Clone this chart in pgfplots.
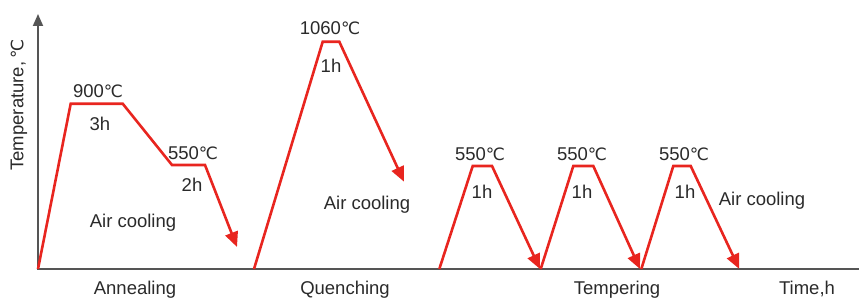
\documentclass[border=0pt]{standalone}
\usepackage{pgfplots}
\pgfplotsset{compat=1.18}
\usepackage{fontspec}
\setmainfont{Liberation Sans}
\newfontfamily\symfont{DejaVu Sans}
\usetikzlibrary{arrows.meta}
\newcommand{\C}{{\symfont\fontsize{17}{18}\selectfont ℃}}
\definecolor{hred}{HTML}{E8251F}
\definecolor{axgray}{HTML}{555555}
\definecolor{txt}{HTML}{2A2A2A}
\tikzset{lbl/.style={font=\fontsize{18.5}{20}\selectfont, text=txt, inner sep=0pt, anchor=base}}
\begin{document}
\begin{tikzpicture}
\begin{axis}[scale only axis, width=859pt, height=298pt,
  xmin=0, xmax=859, ymin=0, ymax=298, hide axis, clip=false]
% axes
\addplot[axgray, line width=1.8pt, -{Triangle[length=12pt,width=10pt]}] coordinates {(38,29) (38,284)};
\addplot[axgray, line width=1.8pt] coordinates {(37.1,29) (859,29)};
% annealing
\addplot[hred, line width=2.6pt, line join=miter, -{Triangle[length=15pt,width=13pt]}] coordinates {(38,29) (70.7,194.3) (122.7,194.3) (172,133) (205,133) (237,51)};
% quenching
\addplot[hred, line width=2.6pt, line join=miter, -{Triangle[length=15pt,width=13pt]}] coordinates {(254,29) (322.7,256.3) (339.3,256.3) (404,116.3)};
% tempering
\addplot[hred, line width=2.6pt, line join=miter, -{Triangle[length=15pt,width=13pt]}] coordinates {(439.3,29) (472.7,132) (492,132) (540,29)};
\addplot[hred, line width=2.6pt, line join=miter, -{Triangle[length=15pt,width=13pt]}] coordinates {(540.7,29) (573.3,132) (593.3,132) (640,29)};
\addplot[hred, line width=2.6pt, line join=miter, -{Triangle[length=15pt,width=13pt]}] coordinates {(641.3,29) (673.3,132) (690.7,132) (739.3,29)};
% labels
\node[lbl] at (axis cs:98,201) {900\C};
\node[lbl] at (axis cs:100,168) {3h};
\node[lbl] at (axis cs:193,139) {550\C};
\node[lbl] at (axis cs:192,107) {2h};
\node[lbl] at (axis cs:133,71) {Air cooling};
\node[lbl] at (axis cs:330,263) {1060\C};
\node[lbl] at (axis cs:331,226) {1h};
\node[lbl] at (axis cs:367,89) {Air cooling};
\node[lbl] at (axis cs:480,138) {550\C};
\node[lbl] at (axis cs:582,138) {550\C};
\node[lbl] at (axis cs:684,138) {550\C};
\node[lbl] at (axis cs:482,100) {1h};
\node[lbl] at (axis cs:582,100) {1h};
\node[lbl] at (axis cs:685,100) {1h};
\node[lbl] at (axis cs:762,93) {Air cooling};
\node[lbl] at (axis cs:135,4) {Annealing};
\node[lbl] at (axis cs:345,4) {Quenching};
\node[lbl] at (axis cs:617,4) {Tempering};
\node[lbl] at (axis cs:807,4) {Time,h};
\node[lbl, rotate=90, anchor=center] at (axis cs:19,193) {Temperature,\,\C};
\end{axis}
\pgfresetboundingbox
\path[use as bounding box] (current axis.south west) rectangle (current axis.north east);
\end{tikzpicture}
\end{document}
